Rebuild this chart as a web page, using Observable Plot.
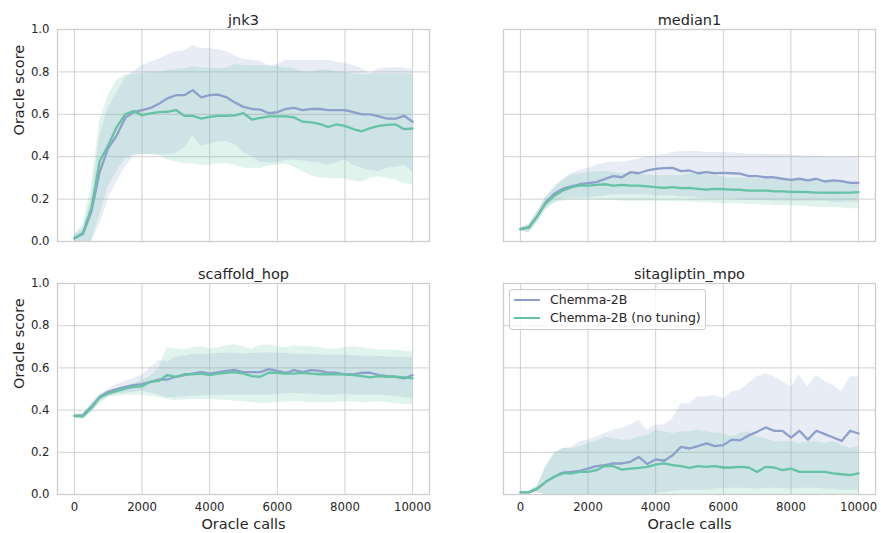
<!DOCTYPE html>
<html><head><meta charset="utf-8">
<script src="https://cdn.jsdelivr.net/npm/d3@7"></script>
<script src="https://cdn.jsdelivr.net/npm/@observablehq/plot@0.6"></script>
<style>
body{margin:0;background:#fff;font-family:"DejaVu Sans",sans-serif;}
#wrap{position:relative;width:881px;height:533px;overflow:hidden;}
.panel{position:absolute;}
.legend{position:absolute;left:509px;top:289px;width:197px;height:41px;border:1px solid #cccccc;border-radius:3px;background:rgba(255,255,255,0.8);box-sizing:border-box;}
.legend .row{position:absolute;left:0;height:18px;line-height:18px;font-size:12.5px;color:#262626;white-space:nowrap;}
.legend .sw{position:absolute;left:4px;top:8px;width:26px;height:0;border-top:2px solid;}
.legend .lab{position:absolute;left:40px;top:0;}
</style></head><body><div id="wrap"></div>
<script>
// ---------- data ----------
const calls = [0,250,500,750,1000,1250,1500,1750,2000,2250,2500,2750,3000,3250,3500,3750,4000,4250,4500,4750,5000,5250,5500,5750,6000,6250,6500,6750,7000,7250,7500,7750,8000,8250,8500,8750,9000,9250,9500,9750,10000];
const seriesNames = ["Chemma-2B", "Chemma-2B (no tuning)"];
const seriesColors = ["#8da0cb", "#66c2a5"];
const tasks = ["jnk3", "median1", "scaffold_hop", "sitagliptin_mpo"];
const xTicks = [0, 2000, 4000, 6000, 8000, 10000];
const yTicks = [0, 0.2, 0.4, 0.6, 0.8, 1.0];

// jnk3
const jnk3TunedMean = [0.015,0.035,0.14,0.33,0.44,0.50,0.583,0.61,0.62,0.63,0.65,0.675,0.69,0.69,0.714,0.68,0.69,0.693,0.68,0.655,0.635,0.625,0.622,0.605,0.61,0.625,0.63,0.62,0.625,0.625,0.62,0.62,0.62,0.61,0.60,0.60,0.59,0.58,0.58,0.593,0.565];
const jnk3TunedLo = [0,0,0,0.08,0.2,0.28,0.35,0.40,0.41,0.41,0.405,0.41,0.415,0.44,0.5,0.45,0.46,0.47,0.47,0.455,0.42,0.4,0.375,0.37,0.37,0.385,0.385,0.38,0.375,0.37,0.36,0.37,0.385,0.36,0.345,0.335,0.33,0.345,0.35,0.36,0.33];
const jnk3TunedHi = [0.03,0.06,0.2,0.5,0.63,0.7,0.77,0.8,0.83,0.845,0.86,0.88,0.895,0.9,0.925,0.91,0.91,0.905,0.895,0.875,0.86,0.855,0.85,0.83,0.835,0.855,0.855,0.855,0.855,0.855,0.855,0.845,0.84,0.83,0.815,0.79,0.815,0.82,0.82,0.82,0.81];
const jnk3BaseMean = [0.015,0.04,0.156,0.38,0.454,0.54,0.60,0.615,0.596,0.604,0.61,0.612,0.62,0.593,0.593,0.58,0.588,0.593,0.593,0.595,0.605,0.575,0.583,0.59,0.59,0.59,0.585,0.565,0.562,0.555,0.54,0.552,0.545,0.53,0.52,0.535,0.545,0.55,0.552,0.53,0.533];
const jnk3BaseLo = [0,0,0,0.13,0.26,0.33,0.39,0.41,0.41,0.41,0.41,0.385,0.375,0.368,0.365,0.36,0.36,0.365,0.368,0.36,0.345,0.345,0.345,0.355,0.36,0.365,0.35,0.33,0.31,0.3,0.297,0.297,0.297,0.285,0.28,0.3,0.305,0.297,0.29,0.274,0.266];
const jnk3BaseHi = [0.03,0.08,0.26,0.57,0.69,0.76,0.785,0.79,0.79,0.8,0.8,0.805,0.81,0.815,0.825,0.82,0.815,0.815,0.82,0.835,0.83,0.83,0.83,0.825,0.825,0.82,0.815,0.8,0.8,0.81,0.81,0.8,0.8,0.79,0.785,0.79,0.79,0.79,0.79,0.79,0.79];

// median1
const median1TunedMean = [0.058,0.068,0.12,0.185,0.225,0.248,0.26,0.27,0.275,0.28,0.295,0.308,0.303,0.327,0.322,0.335,0.343,0.346,0.347,0.332,0.335,0.322,0.327,0.322,0.324,0.322,0.32,0.308,0.308,0.303,0.303,0.296,0.291,0.296,0.288,0.296,0.283,0.288,0.285,0.277,0.277];
const median1TunedLo = [0.05,0.045,0.09,0.155,0.185,0.2,0.205,0.205,0.205,0.21,0.215,0.22,0.22,0.22,0.22,0.22,0.215,0.215,0.215,0.21,0.21,0.205,0.2,0.2,0.2,0.2,0.195,0.195,0.195,0.195,0.19,0.19,0.19,0.19,0.19,0.19,0.19,0.185,0.185,0.185,0.185];
const median1TunedHi = [0.065,0.08,0.14,0.205,0.25,0.29,0.32,0.335,0.345,0.36,0.372,0.375,0.375,0.38,0.39,0.4,0.405,0.41,0.42,0.425,0.426,0.425,0.42,0.42,0.42,0.418,0.415,0.413,0.413,0.41,0.41,0.41,0.408,0.405,0.405,0.403,0.4,0.4,0.4,0.4,0.4];
const median1BaseMean = [0.058,0.065,0.12,0.18,0.215,0.24,0.255,0.265,0.264,0.267,0.27,0.264,0.267,0.264,0.264,0.26,0.256,0.253,0.256,0.252,0.253,0.248,0.245,0.248,0.247,0.245,0.244,0.24,0.24,0.24,0.237,0.236,0.234,0.234,0.233,0.231,0.231,0.23,0.231,0.231,0.233];
const median1BaseLo = [0.05,0.04,0.09,0.15,0.18,0.19,0.195,0.195,0.195,0.195,0.195,0.195,0.19,0.19,0.19,0.19,0.19,0.19,0.188,0.188,0.185,0.185,0.183,0.18,0.178,0.178,0.178,0.175,0.175,0.172,0.17,0.17,0.168,0.168,0.165,0.162,0.16,0.16,0.158,0.155,0.155];
const median1BaseHi = [0.065,0.08,0.14,0.21,0.26,0.29,0.31,0.32,0.325,0.33,0.33,0.325,0.32,0.32,0.315,0.315,0.31,0.31,0.31,0.31,0.32,0.32,0.315,0.31,0.305,0.3,0.3,0.298,0.295,0.295,0.295,0.295,0.292,0.29,0.29,0.29,0.288,0.285,0.285,0.28,0.28];

// scaffold_hop
const scaffoldTunedMean = [0.373,0.376,0.415,0.463,0.487,0.5,0.51,0.518,0.523,0.534,0.545,0.545,0.558,0.566,0.573,0.58,0.573,0.58,0.586,0.59,0.58,0.58,0.58,0.594,0.586,0.577,0.589,0.58,0.589,0.586,0.578,0.577,0.569,0.569,0.577,0.577,0.566,0.561,0.558,0.55,0.566];
const scaffoldTunedLo = [0.365,0.36,0.39,0.44,0.465,0.475,0.48,0.485,0.49,0.48,0.47,0.46,0.46,0.462,0.465,0.468,0.47,0.47,0.47,0.47,0.47,0.47,0.47,0.472,0.475,0.478,0.48,0.478,0.475,0.472,0.47,0.472,0.475,0.472,0.47,0.47,0.47,0.468,0.465,0.46,0.455];
const scaffoldTunedHi = [0.38,0.38,0.43,0.475,0.5,0.52,0.535,0.55,0.565,0.6,0.635,0.63,0.65,0.655,0.665,0.665,0.665,0.668,0.67,0.67,0.665,0.668,0.67,0.672,0.67,0.668,0.665,0.665,0.665,0.662,0.66,0.66,0.66,0.658,0.655,0.655,0.655,0.652,0.65,0.65,0.65];
const scaffoldBaseMean = [0.373,0.37,0.41,0.46,0.479,0.49,0.502,0.51,0.513,0.534,0.539,0.566,0.558,0.57,0.57,0.573,0.566,0.573,0.577,0.58,0.573,0.561,0.558,0.578,0.577,0.573,0.573,0.577,0.573,0.57,0.57,0.57,0.569,0.566,0.561,0.555,0.561,0.558,0.558,0.555,0.55];
const scaffoldBaseLo = [0.36,0.355,0.39,0.43,0.46,0.465,0.47,0.47,0.47,0.465,0.46,0.45,0.445,0.448,0.45,0.45,0.45,0.448,0.445,0.442,0.44,0.435,0.43,0.432,0.435,0.438,0.44,0.438,0.435,0.435,0.435,0.437,0.44,0.438,0.435,0.437,0.44,0.435,0.43,0.428,0.425];
const scaffoldBaseHi = [0.38,0.375,0.43,0.47,0.49,0.5,0.51,0.525,0.54,0.56,0.6,0.695,0.69,0.685,0.695,0.7,0.69,0.695,0.705,0.71,0.7,0.69,0.705,0.71,0.7,0.695,0.705,0.7,0.7,0.695,0.69,0.69,0.695,0.7,0.695,0.69,0.685,0.685,0.685,0.68,0.675];

// sitagliptin_mpo
const sitaTunedMean = [0.01,0.01,0.028,0.06,0.084,0.104,0.107,0.112,0.123,0.134,0.139,0.147,0.147,0.155,0.178,0.144,0.166,0.16,0.186,0.226,0.218,0.229,0.242,0.229,0.234,0.26,0.257,0.28,0.297,0.318,0.302,0.302,0.27,0.302,0.26,0.302,0.286,0.27,0.254,0.302,0.289];
const sitaTunedLo = [0.005,0.005,0.01,0,0,0,0,0,0,0,0,0,0,0,0,0,0.005,0.01,0.015,0.02,0.02,0.02,0.02,0.025,0.03,0.03,0.03,0.03,0.025,0.03,0.03,0.03,0.025,0.03,0.03,0.03,0.025,0.025,0.02,0.02,0.02];
const sitaTunedHi = [0.015,0.015,0.04,0.13,0.19,0.218,0.223,0.25,0.257,0.273,0.289,0.305,0.313,0.329,0.352,0.305,0.329,0.329,0.36,0.43,0.43,0.463,0.463,0.47,0.455,0.487,0.494,0.526,0.558,0.573,0.558,0.534,0.51,0.566,0.51,0.566,0.534,0.518,0.487,0.558,0.558];
const sitaBaseMean = [0.01,0.01,0.028,0.06,0.084,0.1,0.1,0.107,0.107,0.115,0.136,0.134,0.118,0.123,0.126,0.131,0.142,0.147,0.139,0.134,0.126,0.134,0.131,0.134,0.128,0.128,0.131,0.128,0.107,0.131,0.128,0.115,0.123,0.107,0.107,0.107,0.107,0.1,0.096,0.092,0.1];
const sitaBaseLo = [0.005,0.005,0.01,0,0,0,0,0,0,0,0,0,0,0,0,0,0,0,0,0,0,0,0,0,0,0,0,0,0,0,0,0,0,0,0,0,0,0,0,0,0];
const sitaBaseHi = [0.015,0.015,0.04,0.13,0.2,0.218,0.218,0.226,0.242,0.25,0.273,0.265,0.257,0.257,0.273,0.28,0.305,0.297,0.289,0.297,0.297,0.305,0.297,0.292,0.289,0.273,0.289,0.297,0.273,0.265,0.25,0.25,0.25,0.242,0.25,0.25,0.242,0.25,0.234,0.218,0.226];

// ---------- build tables ----------
function table(tm, tl, th, bm, bl, bh) {
  const out = [];
  calls.forEach((c, i) => out.push({series: seriesNames[0], calls: c, mean: tm[i], lo: tl[i], hi: th[i]}));
  calls.forEach((c, i) => out.push({series: seriesNames[1], calls: c, mean: bm[i], lo: bl[i], hi: bh[i]}));
  return out;
}
const tablesByTask = {
  jnk3: table(jnk3TunedMean, jnk3TunedLo, jnk3TunedHi, jnk3BaseMean, jnk3BaseLo, jnk3BaseHi),
  median1: table(median1TunedMean, median1TunedLo, median1TunedHi, median1BaseMean, median1BaseLo, median1BaseHi),
  scaffold_hop: table(scaffoldTunedMean, scaffoldTunedLo, scaffoldTunedHi, scaffoldBaseMean, scaffoldBaseLo, scaffoldBaseHi),
  sitagliptin_mpo: table(sitaTunedMean, sitaTunedLo, sitaTunedHi, sitaBaseMean, sitaBaseLo, sitaBaseHi)
};

// ---------- layout ----------
const layout = [
  {left: 0,   top: 0,   width: 440, height: 250, ml: 57, mr: 11, mt: 29, mb: 9,  showX: false, showY: true},
  {left: 440, top: 0,   width: 441, height: 250, ml: 63, mr: 6,  mt: 29, mb: 9,  showX: false, showY: false},
  {left: 0,   top: 260, width: 440, height: 273, ml: 57, mr: 11, mt: 23, mb: 39, showX: true,  showY: true},
  {left: 440, top: 260, width: 441, height: 273, ml: 63, mr: 6,  mt: 23, mb: 39, showX: true,  showY: false}
];

const wrap = document.getElementById("wrap");
const ink = "#262626";

tasks.forEach((task, k) => {
  const L = layout[k];
  const data = tablesByTask[task];
  const marks = [
    Plot.gridX(xTicks, {stroke: "#d0d0d0", strokeOpacity: 1, strokeWidth: 1}),
    Plot.gridY(yTicks, {stroke: "#d0d0d0", strokeOpacity: 1, strokeWidth: 1}),
    Plot.areaY(data, {x: "calls", y1: "lo", y2: "hi", z: "series", fill: "series", fillOpacity: 0.2}),
    Plot.lineY(data, {x: "calls", y: "mean", z: "series", stroke: "series", strokeWidth: 2.3}),
    Plot.frame({stroke: "#cccccc", strokeWidth: 1.25}),
    Plot.text([task], {frameAnchor: "top", dy: -5, lineAnchor: "bottom", fontSize: 14.5, fill: ink})
  ];
  if (L.showY) {
    marks.push(Plot.axisY({ticks: yTicks, tickSize: 0, tickPadding: 8, tickFormat: d => d.toFixed(1), label: null, fontSize: 11.7, fill: ink}));
    marks.push(Plot.text(["Oracle score"], {frameAnchor: "left", dx: -38.5, rotate: -90, lineAnchor: "middle", fontSize: 14.5, fill: ink}));
  }
  if (L.showX) {
    marks.push(Plot.axisX({ticks: xTicks, tickSize: 0, tickPadding: 8, tickFormat: d => String(d), label: null, fontSize: 11.7, fill: ink}));
    marks.push(Plot.text(["Oracle calls"], {frameAnchor: "bottom", dy: 30, lineAnchor: "middle", fontSize: 14.5, fill: ink}));
  }
  const svg = Plot.plot({
    width: L.width, height: L.height,
    marginLeft: L.ml, marginRight: L.mr, marginTop: L.mt, marginBottom: L.mb,
    x: {domain: [-500, 10500], axis: null},
    y: {domain: [0, 1], axis: null},
    color: {domain: seriesNames, range: seriesColors},
    style: {fontFamily: "DejaVu Sans, sans-serif", fontSize: "11.7px", color: ink, background: "transparent", overflow: "visible"},
    marks
  });
  const div = document.createElement("div");
  div.className = "panel";
  div.style.left = L.left + "px";
  div.style.top = L.top + "px";
  div.appendChild(svg);
  wrap.appendChild(div);
});

// ---------- legend (inside sitagliptin_mpo panel) ----------
const legend = document.createElement("div");
legend.className = "legend";
seriesNames.forEach((name, i) => {
  const row = document.createElement("div");
  row.className = "row";
  row.style.top = (1 + i * 18.4) + "px";
  row.style.width = "100%";
  const sw = document.createElement("span");
  sw.className = "sw";
  sw.style.borderTopColor = seriesColors[i];
  const lab = document.createElement("span");
  lab.className = "lab";
  lab.textContent = name;
  row.appendChild(sw);
  row.appendChild(lab);
  legend.appendChild(row);
});
wrap.appendChild(legend);
</script>
</body></html>
